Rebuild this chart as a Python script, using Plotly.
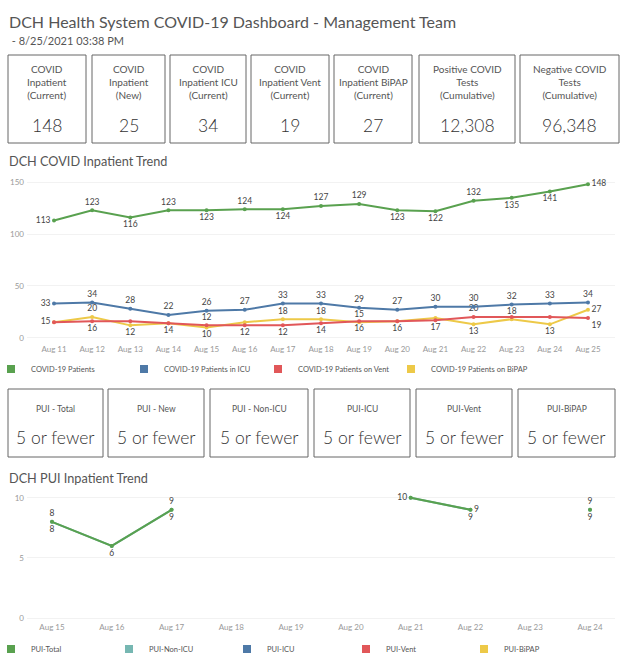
import plotly.graph_objects as go

W, H = 624, 665
FONT = "Lato"

# ---------------- data ----------------
kpi_labels = ["COVID<br>Inpatient<br>(Current)", "COVID<br>Inpatient<br>(New)",
              "COVID<br>Inpatient ICU<br>(Current)", "COVID<br>Inpatient Vent<br>(Current)",
              "COVID<br>Inpatient BiPAP<br>(Current)", "Positive COVID<br>Tests<br>(Cumulative)",
              "Negative COVID<br>Tests<br>(Cumulative)"]
kpi_values = ["148", "25", "34", "19", "27", "12,308", "96,348"]

covid_dates = ["Aug 11", "Aug 12", "Aug 13", "Aug 14", "Aug 15", "Aug 16", "Aug 17", "Aug 18",
               "Aug 19", "Aug 20", "Aug 21", "Aug 22", "Aug 23", "Aug 24", "Aug 25"]
covid_patients = [113, 123, 116, 123, 123, 124, 124, 127, 129, 123, 122, 132, 135, 141, 148]
covid_icu = [33, 34, 28, 22, 26, 27, 33, 33, 29, 27, 30, 30, 32, 33, 34]
covid_vent = [15, 16, 16, 14, 12, 12, 12, 14, 16, 16, 17, 20, 20, 20, 19]
covid_bipap = [15, 20, 12, 14, 10, 15, 18, 18, 15, 16, 19, 13, 18, 13, 27]

pui_labels = ["PUI - Total", "PUI - New", "PUI - Non-ICU", "PUI-ICU", "PUI-Vent", "PUI-BiPAP"]
pui_values = ["5 or fewer"] * 6

pui_dates = ["Aug 15", "Aug 16", "Aug 17", "Aug 18", "Aug 19", "Aug 20", "Aug 21", "Aug 22",
             "Aug 23", "Aug 24"]
pui_total = [8, 6, 9, None, None, None, 10, 9, None, 9]
pui_nonicu = [8, 6, 9, None, None, None, 10, 9, None, 9]

covid_series_names = ["COVID-19 Patients", "COVID-19 Patients in ICU", "COVID-19 Patients on Vent",
                      "COVID-19 Patients on BiPAP"]
pui_series_names = ["PUI-Total", "PUI-Non-ICU", "PUI-ICU", "PUI-Vent", "PUI-BiPAP"]

# ---------------- styles ----------------
GREEN, BLUE, RED, YELLOW, TEAL = "#59a14f", "#4e79a7", "#e15759", "#edc948", "#76b7b2"
LBL = dict(size=8.5, color="#444", family=FONT)


def px(x):
    return x / W


def py(y):
    return 1 - y / H


fig = go.Figure()

pat_pos = ["middle left", "top center", "bottom center", "top center", "bottom center", "top center",
           "bottom center", "top center", "top center", "bottom center", "bottom center", "top center",
           "bottom center", "bottom center", "middle right"]
icu_pos = ["middle left"] + ["top center"] * 14
vent_show = [1, 1, 0, 1, 1, 1, 1, 1, 1, 1, 1, 1, 0, 0, 1]
vent_pos = ["middle left", "bottom center", "bottom center", "bottom center", "top center",
            "bottom center", "bottom center", "bottom center", "bottom center", "bottom center",
            "bottom center", "top center", "top center", "top center", "bottom right"]
bip_show = [0, 1, 1, 0, 1, 0, 1, 1, 1, 0, 0, 1, 1, 1, 1]
bip_pos = ["bottom center", "top center", "bottom center", "top center", "bottom center", "top center",
           "top center", "top center", "top center", "top center", "top center", "bottom center",
           "top center", "bottom center", "middle right"]


def add_line(x, y, color, pos, show, xa, ya, width=2):
    txt = [str(v) if (v is not None and s) else "" for v, s in zip(y, show)]
    fig.add_trace(go.Scatter(x=x, y=y, mode="lines+markers+text", line=dict(color=color, width=width),
                             marker=dict(color=color, size=4), text=txt, textposition=pos,
                             textfont=LBL, xaxis=xa, yaxis=ya, showlegend=False, hoverinfo="skip",
                             cliponaxis=False))


add_line(covid_dates, covid_bipap, YELLOW, bip_pos, bip_show, "x", "y")
add_line(covid_dates, covid_vent, RED, vent_pos, vent_show, "x", "y")
add_line(covid_dates, covid_icu, BLUE, icu_pos, [1] * 15, "x", "y")
add_line(covid_dates, covid_patients, GREEN, pat_pos, [1] * 15, "x", "y")

nonicu_pos = ["bottom center"] * 10
nonicu_show = [1, 0, 1, 0, 0, 0, 0, 1, 0, 1]
tot_pos = ["top center", "bottom center", "top center", "top center", "top center", "top center",
           "middle left", "middle right", "top center", "top center"]
add_line(pui_dates, pui_nonicu, TEAL, nonicu_pos, nonicu_show, "x2", "y2")
add_line(pui_dates, pui_total, GREEN, tot_pos, [1] * 10, "x2", "y2")

# legends: one single-entry legend per item so every swatch sits where the reference has it
legend_layout = {}
leg_font = dict(size=7.5, color="#555", family=FONT)
covid_swatch_x = [14, 147, 281, 414]
pui_swatch_x = [14, 132, 250, 369, 487]
k = 1
for names, cols, sx, yy, xa, ya in [
        (covid_series_names, [GREEN, BLUE, RED, YELLOW], covid_swatch_x, 369, "x", "y"),
        (pui_series_names, [GREEN, TEAL, BLUE, RED, YELLOW], pui_swatch_x, 649, "x2", "y2")]:
    for name, col, s in zip(names, cols, sx):
        key = "legend" if k == 1 else f"legend{k}"
        fig.add_trace(go.Scatter(x=[None], y=[None], mode="markers", name=name,
                                 marker=dict(symbol="square", size=8, color=col),
                                 xaxis=xa, yaxis=ya, legend=key))
        legend_layout[key] = dict(orientation="h", x=px(s - 23), y=py(yy), xanchor="left",
                                  yanchor="middle", font=leg_font, itemwidth=30,
                                  bgcolor="rgba(0,0,0,0)")
        k += 1

annotations = []
shapes = []


def text(x, y, s, size, color="#555", anchor="left", weight=None):
    f = dict(size=size, color=color, family=FONT)
    if weight:
        f["weight"] = weight
    annotations.append(dict(x=px(x), y=py(y), xref="paper", yref="paper", xanchor=anchor,
                            yanchor="middle", text=s, showarrow=False, font=f))


text(7, 22, "DCH Health System COVID-19 Dashboard - Management Team", 16)
text(7, 41, " - 8/25/2021 03:38 PM", 11)
text(7, 161, "DCH COVID Inpatient Trend", 12.7)
text(7, 478, "DCH PUI Inpatient Trend", 12.7)

kpi_x = [(8, 86), (92, 165), (170, 246), (251, 329), (334, 412), (419, 515), (520, 619)]
for (x0, x1), lab, val in zip(kpi_x, kpi_labels, kpi_values):
    shapes.append(dict(type="rect", xref="paper", yref="paper", x0=px(x0), x1=px(x1), y0=py(143),
                       y1=py(55), line=dict(color="#666", width=1)))
    text((x0 + x1) / 2, 82, lab, 10, anchor="center")
    text((x0 + x1) / 2, 125, val, 17.5, color="#333", anchor="center", weight=300)

pui_x = [(8, 103), (108, 204), (210, 308), (314, 410), (416, 512), (518, 615)]
for (x0, x1), lab, val in zip(pui_x, pui_labels, pui_values):
    shapes.append(dict(type="rect", xref="paper", yref="paper", x0=px(x0), x1=px(x1), y0=py(457),
                       y1=py(389), line=dict(color="#666", width=1)))
    text((x0 + x1) / 2, 409, lab, 8.5, anchor="center")
    text((x0 + x1) / 2, 437, val, 17.5, color="#333", anchor="center", weight=300)

axis_font = dict(size=8, color="#999", family=FONT)
fig.update_layout(
    width=W, height=H, margin=dict(l=0, r=0, t=0, b=0, autoexpand=False),
    paper_bgcolor="white", plot_bgcolor="white",
    font=dict(family=FONT),
    annotations=annotations, shapes=shapes,
    xaxis=dict(domain=[px(27), px(615)], type="category", range=[-0.708, 14.708], showgrid=False,
               tickfont=axis_font, ticks="", showline=False, zeroline=False, anchor="y"),
    yaxis=dict(domain=[py(343), py(177)], range=[-5, 155], tickvals=[0, 50, 100, 150],
               gridcolor="#f2f2f2", tickfont=axis_font, zeroline=False, showline=False, anchor="x",
               ticklabelstandoff=2),
    xaxis2=dict(domain=[px(27), px(615)], type="category", categoryorder="array", categoryarray=pui_dates,
                range=[-0.418, 9.418], showgrid=False, tickfont=axis_font, ticks="", showline=False,
                zeroline=False, anchor="y2"),
    yaxis2=dict(domain=[py(621), py(490)], range=[-0.25, 10.65], tickvals=[0, 5, 10], gridcolor="#f2f2f2",
                tickfont=axis_font, zeroline=False, showline=False, anchor="x2", ticklabelstandoff=2),
    **legend_layout,
)

# remove the browser's default 8px body margin so the figure fills the 624x665 window exactly
fig.write_html("out.html", config={"displayModeBar": False},
               post_script="document.body.style.margin='0px';document.body.style.overflow='hidden';")
